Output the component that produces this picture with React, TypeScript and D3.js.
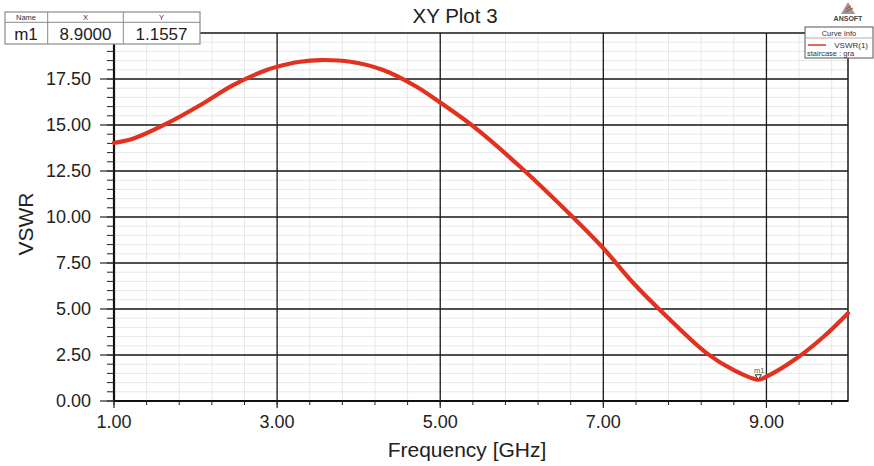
import React from "react";
import * as d3 from "d3";

const freqGHz = [1.0, 1.24, 1.65, 2.06, 2.46, 2.87, 3.0, 3.28, 3.53, 3.9, 4.3, 4.71, 5.0, 5.41, 5.98, 6.64, 7.0, 7.37, 7.78, 8.27, 8.6, 8.9, 9.0, 9.37, 9.7, 10.0];
const vswrValues = [14.03, 14.27, 15.09, 16.09, 17.17, 17.99, 18.17, 18.44, 18.53, 18.44, 17.99, 17.08, 16.22, 14.91, 12.73, 9.93, 8.3, 6.4, 4.58, 2.59, 1.68, 1.1557, 1.32, 2.32, 3.49, 4.77];
const xMajorTicks = [1, 3, 5, 7, 9];
const yMajorTicks = [0, 2.5, 5, 7.5, 10, 12.5, 15, 17.5];
const markerName = "m1";
const markerX = 8.9;
const markerY = 1.1557;

const W = 874;
const H = 466;
const FONT = "'Liberation Sans', Arial, sans-serif";

export default function App() {
  const x = d3.scaleLinear().domain([1, 10]).range([114, 848]);
  const y = d3.scaleLinear().domain([0, 20]).range([401, 33]);
  const [x0, x1] = x.range();
  const [y0, y1] = y.range();

  const xMinor = d3.range(1, 10.0001, 0.4).map((v) => +v.toFixed(2));
  const yMinor = d3.range(0, 20.0001, 0.5).map((v) => +v.toFixed(2));

  const line = d3
    .line<number>()
    .x((_, i) => x(freqGHz[i]))
    .y((d) => y(d))
    .curve(d3.curveCatmullRom.alpha(0.5));

  const mx = x(markerX);
  const my = y(markerY);

  return (
    <svg width={W} height={H} style={{ position: "absolute", left: 0, top: 0, background: "#fff" }} fontFamily={FONT}>
      <rect x={0} y={0} width={W} height={H} fill="#fff" />
      {/* minor grid */}
      {xMinor.map((v) => (
        <line key={"xm" + v} x1={x(v)} x2={x(v)} y1={y1} y2={y0} stroke="#e8e8e8" strokeWidth={1} />
      ))}
      {yMinor.map((v) => (
        <line key={"ym" + v} x1={x0} x2={x1} y1={y(v)} y2={y(v)} stroke="#e8e8e8" strokeWidth={1} />
      ))}
      {/* major grid */}
      {xMajorTicks.map((v) => (
        <line key={"xM" + v} x1={x(v)} x2={x(v)} y1={y1} y2={y0} stroke="#1a1a1a" strokeWidth={1.3} />
      ))}
      {yMajorTicks.map((v) => (
        <line key={"yM" + v} x1={x0} x2={x1} y1={y(v)} y2={y(v)} stroke="#1a1a1a" strokeWidth={1.3} />
      ))}
      {/* plot border */}
      <rect x={x0} y={y1} width={x1 - x0} height={y0 - y1} fill="none" stroke="#1a1a1a" strokeWidth={1.5} />
      <line x1={x0} x2={x0} y1={y1} y2={y0} stroke="#111" strokeWidth={2.2} />
      <line x1={x0} x2={x1} y1={y0} y2={y0} stroke="#111" strokeWidth={2.2} />
      {/* y ticks */}
      {yMinor.map((v) => (
        <line key={"yt" + v} x1={x0 - 7} x2={x0} y1={y(v)} y2={y(v)} stroke="#222" strokeWidth={1} />
      ))}
      {yMajorTicks.map((v) => (
        <g key={"yl" + v}>
          <line x1={x0 - 14} x2={x0} y1={y(v)} y2={y(v)} stroke="#222" strokeWidth={1.2} />
          <text x={91} y={y(v)} dy="0.36em" textAnchor="end" fontSize={18} fill="#222">
            {d3.format(".2f")(v)}
          </text>
        </g>
      ))}
      {/* x ticks */}
      {xMinor.map((v) => (
        <line key={"xt" + v} x1={x(v)} x2={x(v)} y1={y0} y2={y0 + 4} stroke="#222" strokeWidth={1} />
      ))}
      {xMajorTicks.map((v) => (
        <g key={"xl" + v}>
          <line x1={x(v)} x2={x(v)} y1={y0} y2={y0 + 7} stroke="#222" strokeWidth={1.2} />
          <text x={x(v)} y={428} textAnchor="middle" fontSize={18} fill="#222">
            {d3.format(".2f")(v)}
          </text>
        </g>
      ))}
      {/* curve */}
      <path d={line(vswrValues) || ""} fill="none" stroke="#e2321f" strokeWidth={4.2} strokeLinejoin="round" strokeLinecap="round" />
      {/* marker */}
      <path d={`M${mx - 3},${my - 5} L${mx + 3},${my - 5} L${mx},${my} Z`} fill="#fff" stroke="#333" strokeWidth={1} />
      <text x={mx + 1} y={my - 7} textAnchor="middle" fontSize={7.5} fill="#555">
        {markerName}
      </text>
      {/* title */}
      <text x={455} y={23} textAnchor="middle" fontSize={20.5} fill="#222">
        XY Plot 3
      </text>
      {/* axis labels */}
      <text x={467} y={457} textAnchor="middle" fontSize={21} fill="#222">
        Frequency [GHz]
      </text>
      <text transform="translate(33,224) rotate(-90)" textAnchor="middle" fontSize={21} fill="#222">
        VSWR
      </text>
      {/* marker table */}
      <g>
        <rect x={5} y={12} width={195} height={32} fill="#fff" stroke="#8a8a8a" strokeWidth={1.2} />
        <line x1={5} x2={200} y1={22.3} y2={22.3} stroke="#8a8a8a" strokeWidth={1} />
        <line x1={47.7} x2={47.7} y1={12} y2={44} stroke="#8a8a8a" strokeWidth={1} />
        <line x1={123.3} x2={123.3} y1={12} y2={44} stroke="#8a8a8a" strokeWidth={1} />
        <text x={26} y={20} textAnchor="middle" fontSize={7.5} fill="#333">Name</text>
        <text x={85.5} y={20} textAnchor="middle" fontSize={7.5} fill="#333">X</text>
        <text x={161.5} y={20} textAnchor="middle" fontSize={7.5} fill="#333">Y</text>
        <text x={26} y={40} textAnchor="middle" fontSize={17} fill="#222">{markerName}</text>
        <text x={85.5} y={40} textAnchor="middle" fontSize={17} fill="#222">{markerX.toFixed(4)}</text>
        <text x={161.5} y={40} textAnchor="middle" fontSize={17} fill="#222">{markerY.toFixed(4)}</text>
      </g>
      {/* ANSOFT logo */}
      <g>
        <path d="M848,2 L841,14 L855,14 Z" fill="#9a9a9a" />
        <line x1={846} x2={851} y1={9} y2={6} stroke="#c0392b" strokeWidth={1} />
        <line x1={845} x2={853} y1={12} y2={8} stroke="#c0392b" strokeWidth={1} />
        <text x={848} y={21} textAnchor="middle" fontSize={7} fontWeight="bold" fill="#444">ANSOFT</text>
      </g>
      {/* legend */}
      <g>
        <rect x={805} y={27} width={68} height={31} fill="#fff" stroke="#555" strokeWidth={1} />
        <line x1={805} x2={873} y1={38} y2={38} stroke="#999" strokeWidth={0.8} />
        <text x={839} y={35.5} textAnchor="middle" fontSize={7.5} fill="#333">Curve Info</text>
        <line x1={808} x2={826} y1={45} y2={45} stroke="#e2321f" strokeWidth={1.5} />
        <text x={868} y={47.5} textAnchor="end" fontSize={8} fill="#333">VSWR(1)</text>
        <text x={807} y={55.5} fontSize={7.5} fill="#333">staircase : gra</text>
      </g>
    </svg>
  );
}
